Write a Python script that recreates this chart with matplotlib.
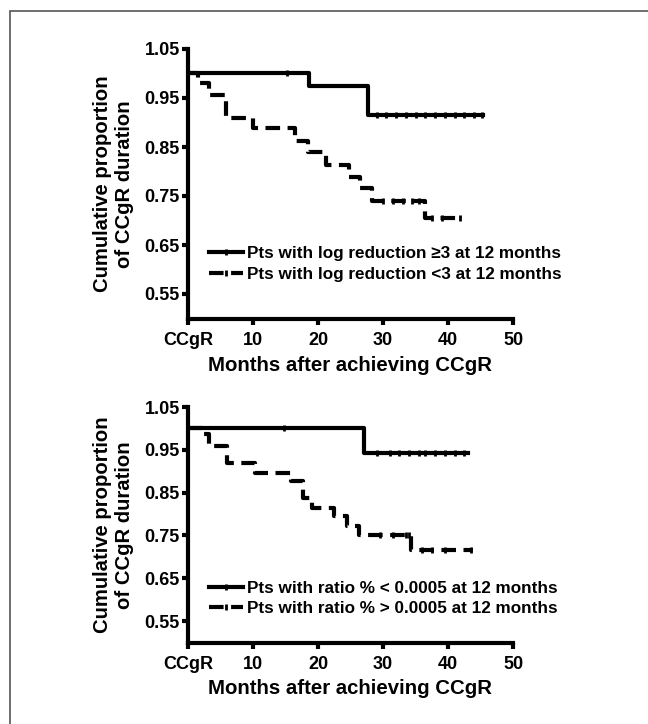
import matplotlib
matplotlib.use("Agg")
import matplotlib.pyplot as plt
from matplotlib.lines import Line2D
from matplotlib.patches import Rectangle

plt.rcParams['font.family'] = ['Liberation Sans', 'DejaVu Sans']
plt.rcParams['font.weight'] = 'bold'

# x ticks
xticks = [0, 10, 20, 30, 40, 50]
xticklabels = ["CCgR", "10", "20", "30", "40", "50"]
yticks = [0.55, 0.65, 0.75, 0.85, 0.95, 1.05]
yticklabels = ["0.55", "0.65", "0.75", "0.85", "0.95", "1.05"]

# top panel: log reduction groups
top_solid_t = [0, 18.6, 27.7, 45.4]
top_solid_s = [1.0, 0.975, 0.915, 0.915]
top_solid_cens = [15.3, 29, 30.5, 32, 33.5, 35, 36.5, 38, 39.5, 41, 42.5, 44, 45.2]

top_dash_t = [0, 1.5, 3.3, 5.9, 10.0, 16.4, 18.5, 21.2, 24.7, 26.4, 28.3, 36.5, 42.2]
top_dash_s = [1.0, 0.981, 0.956, 0.909, 0.888, 0.862, 0.840, 0.813, 0.789, 0.766, 0.740, 0.705, 0.705]
top_dash_cens = [30, 31.5, 33, 34.5, 35.5, 37.5, 39, 41.8]

# bottom panel: ratio groups
bot_solid_t = [0, 27.1, 43.1]
bot_solid_s = [1.0, 0.942, 0.942]
bot_solid_cens = [14.8, 29, 31, 32.5, 34, 35.5, 36.5, 38, 39.5, 41, 42.5]

bot_dash_t = [0, 2.2, 3.3, 6.0, 10.3, 15.8, 17.7, 19.0, 22.4, 24.5, 26.3, 34.3, 43.9]
bot_dash_s = [1.0, 0.988, 0.959, 0.919, 0.896, 0.877, 0.837, 0.815, 0.795, 0.772, 0.750, 0.716, 0.716]
bot_dash_cens = [29.5, 31.5, 33.5, 34, 36, 37.5, 39.5, 43.5]

top_labels = ["Pts with log reduction \u22653 at 12 months",
              "Pts with log reduction <3 at 12 months"]
bot_labels = ["Pts with ratio % < 0.0005 at 12 months",
              "Pts with ratio % > 0.0005 at 12 months"]

DASH = (0, (3.5, 1.8))


def cens_y(t, s, c):
    # survival value at censor time
    out = []
    for x in c:
        v = s[0]
        for ti, si in zip(t, s):
            if ti <= x:
                v = si
        out.append(v)
    return out


def panel(ax, st, ss, sc, dt, ds, dc, labels, xlab_y, leg_y):
    ax.step(st, ss, where='post', color='black', lw=3)
    ax.plot(sc, cens_y(st, ss, sc), ls='none', marker='|', ms=5, mew=2, color='black')
    ax.step(dt, ds, where='post', color='black', lw=3, ls=DASH, dash_capstyle='butt')
    ax.plot(dc, cens_y(dt, ds, dc), ls='none', marker='|', ms=5, mew=2, color='black')
    ax.set_xlim(0, 50)
    ax.set_ylim(0.50, 1.05)
    ax.set_xticks(xticks)
    ax.set_xticklabels(xticklabels)
    ax.set_yticks(yticks)
    ax.set_yticklabels(yticklabels)
    for sp in ['top', 'right']:
        ax.spines[sp].set_visible(False)
    for sp in ['left', 'bottom']:
        ax.spines[sp].set_linewidth(3)
        ax.spines[sp].set_capstyle('projecting')
    ax.tick_params(direction='out', length=4, width=3, labelsize=13)
    ax.tick_params(axis='x', pad=5.5)
    ax.tick_params(axis='y', pad=2)
    for lb in ax.get_xticklabels() + ax.get_yticklabels():
        lb.set_fontweight('bold')
    ax.set_xlabel("Months after achieving CCgR", fontsize=14.7, fontweight='bold')
    ax.xaxis.set_label_coords(0.5, xlab_y)
    ax.set_ylabel("Cumulative proportion\nof CCgR duration", fontsize=14.6,
                  fontweight='bold', linespacing=1.2)
    ax.yaxis.set_label_coords(-0.165, 0.5)
    handles = [Line2D([], [], color='black', lw=3, marker='|', ms=5, mew=2),
               Line2D([], [], color='black', lw=3, ls=DASH, marker='|', ms=5, mew=2)]
    leg = ax.legend(handles, labels, loc='upper left', bbox_to_anchor=(0.065, leg_y),
                    frameon=False, fontsize=12.3, handlelength=2.0, handletextpad=0.2,
                    labelspacing=0.33, borderpad=0, borderaxespad=0)
    for t in leg.get_texts():
        t.set_fontweight('bold')


fig = plt.figure(figsize=(6.48, 7.24), dpi=100)
fig.patches.append(Rectangle((10 / 648, -0.1), 1.2, 1 - 11 / 724 + 0.1,
                             transform=fig.transFigure, fill=False,
                             edgecolor='#555555', lw=1.2))

ax1 = fig.add_axes([188 / 648, 1 - 318.5 / 724, 325 / 648, 269.5 / 724])
ax2 = fig.add_axes([188 / 648, 1 - 642.5 / 724, 325 / 648, 235.5 / 724])

panel(ax1, top_solid_t, top_solid_s, top_solid_cens,
      top_dash_t, top_dash_s, top_dash_cens, top_labels, -0.14, 0.268)
panel(ax2, bot_solid_t, bot_solid_s, bot_solid_cens,
      bot_dash_t, bot_dash_s, bot_dash_cens, bot_labels, -0.155, 0.262)

fig.savefig("out.png", dpi=100)
